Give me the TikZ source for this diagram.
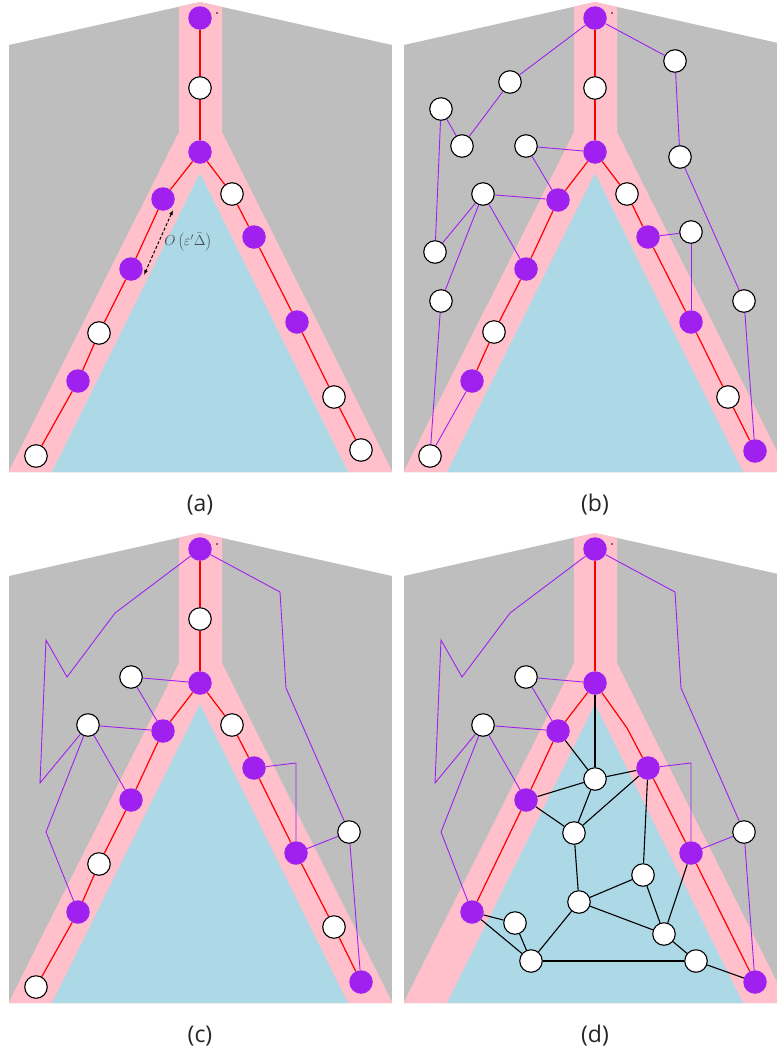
\documentclass[tikz,border=0pt]{standalone}
\usepackage{fontspec}
\newfontfamily\labfont{Open Sans}
\usetikzlibrary{arrows.meta}
\definecolor{bggrey}{RGB}{190,190,190}
\definecolor{bandpink}{RGB}{255,192,203}
\definecolor{triblue}{RGB}{173,216,230}
\definecolor{vpurple}{RGB}{160,32,240}
\definecolor{labgrey}{RGB}{70,78,86}
\tikzset{
  pn/.style={circle,fill=vpurple,minimum size=23.5pt,inner sep=0pt},
  wn/.style={circle,fill=white,draw=black,line width=1.1pt,minimum size=22.5pt,inner sep=0pt},
  redge/.style={draw=red,line width=1.2pt},
  pedge/.style={draw=vpurple,line width=0.9pt},
  bedge/.style={draw=black,line width=1.1pt},
  plabel/.style={font=\labfont\fontsize{23}{26}\selectfont,text=black!85},
}
\newcommand\panelbg{%
  \begin{scope}
    \clip (9,45) -- (200,2) -- (392,45) -- (392,472) -- (9,472) -- cycle;
    \fill[bggrey] (9,45) -- (200,2) -- (392,45) -- (392,472) -- (9,472) -- cycle;
    \fill[bandpink] (179,-5) -- (222,-5) -- (222,132) -- (393,473) -- (8,473) -- (179,132) -- cycle;
    \fill[triblue] (200,173) -- (52,472) -- (348,472) -- cycle;
  \end{scope}
  \fill[black] (217,13) circle (0.8);
}
\begin{document}
\begin{tikzpicture}[x=1pt,y=-1pt]
\clip (0,0) rectangle (777,1053);
\fill[white] (0,0) rectangle (777,1053);

% ---------------- panel (a)
\begin{scope}
\panelbg
\node[pn] (a0) at (200,18) {};
\node[wn] (a1) at (200,88) {};
\node[pn] (a2) at (200,152) {};
\node[pn] (a3) at (163,199) {};
\node[pn] (a4) at (131,269) {};
\node[wn] (a5) at (99,333) {};
\node[pn] (a6) at (78,381) {};
\node[wn] (a7) at (36,456) {};
\node[wn] (a8) at (232,194) {};
\node[pn] (a9) at (254,237) {};
\node[pn] (a10) at (297,322) {};
\node[wn] (a11) at (334,397) {};
\node[wn] (a12) at (361,450) {};
\draw[redge] (a0) -- (a1); \draw[redge] (a1) -- (a2);
\draw[redge] (a2) -- (a3); \draw[redge] (a3) -- (a4);
\draw[redge] (a4) -- (a5); \draw[redge] (a5) -- (a6);
\draw[redge] (a6) -- (a7);
\draw[redge] (a2) -- (a8); \draw[redge] (a8) -- (a9);
\draw[redge] (a9) -- (a10); \draw[redge] (a10) -- (a11);
\draw[redge] (a11) -- (a12);
\coordinate (arrA) at (173,210);
\coordinate (arrB) at (144,275);
\draw[densely dashed,line width=1pt,{Latex[length=5pt,width=4pt]}-{Latex[length=5pt,width=4pt]}] (arrA) -- (arrB);
\node[text=labgrey,font=\fontsize{14.5}{16}\selectfont] (lab) at (188,242) {$O\left(\varepsilon'\bar{\Delta}\right)$};
\node[plabel] (capa) at (200,505) {(a)};
\end{scope}

% ---------------- panel (b)
\begin{scope}[shift={(395,0)}]
\panelbg
\node[pn] (b0) at (200,18) {};
\node[wn] (b1) at (200,88) {};
\node[pn] (b2) at (200,152) {};
\node[pn] (b3) at (163,200) {};
\node[pn] (b4) at (131,269) {};
\node[wn] (b5) at (99,332) {};
\node[pn] (b6) at (77,381) {};
\node[wn] (b7) at (35,456) {};
\node[wn] (b8) at (232,194) {};
\node[pn] (b9) at (253,237) {};
\node[pn] (b10) at (296,322) {};
\node[wn] (b11) at (333,397) {};
\node[pn] (b12) at (360,451) {};
\node[wn] (bA) at (115,82) {};
\node[wn] (bB) at (46,109) {};
\node[wn] (bC) at (67,146) {};
\node[wn] (bD) at (131,146) {};
\node[wn] (bE) at (88,194) {};
\node[wn] (bF) at (40,252) {};
\node[wn] (bG) at (46,301) {};
\node[wn] (bH) at (280,61) {};
\node[wn] (bI) at (285,157) {};
\node[wn] (bJ) at (296,232) {};
\node[wn] (bK) at (349,301) {};
\draw[redge] (b0) -- (b1); \draw[redge] (b1) -- (b2);
\draw[redge] (b2) -- (b3); \draw[redge] (b3) -- (b4);
\draw[redge] (b4) -- (b5); \draw[redge] (b5) -- (b6);
\draw[pedge] (b6) -- (b7);
\draw[redge] (b2) -- (b8); \draw[redge] (b8) -- (b9);
\draw[redge] (b9) -- (b10); \draw[redge] (b10) -- (b11);
\draw[redge] (b11) -- (b12);
\draw[pedge] (b0) -- (bA); \draw[pedge] (bA) -- (bC);
\draw[pedge] (bC) -- (bB); \draw[pedge] (bB) -- (bF);
\draw[pedge] (bF) -- (bE); \draw[pedge] (bE) -- (bG);
\draw[pedge] (bG) -- (b7);
\draw[pedge] (bE) -- (b3); \draw[pedge] (bE) -- (b4);
\draw[pedge] (bD) -- (b2); \draw[pedge] (bD) -- (b3);
\draw[pedge] (b0) -- (bH); \draw[pedge] (bH) -- (bI);
\draw[pedge] (bI) -- (bK); \draw[pedge] (bK) -- (b12);
\draw[pedge] (bJ) -- (b9); \draw[pedge] (bJ) -- (b10);
\node[plabel] (capb) at (200,505) {(b)};
\end{scope}

% ---------------- panel (c)
\begin{scope}[shift={(0,531)}]
\panelbg
\node[pn] (c0) at (200,18) {};
\node[wn] (c1) at (200,88) {};
\node[pn] (c2) at (200,152) {};
\node[pn] (c3) at (163,200) {};
\node[pn] (c4) at (131,269) {};
\node[wn] (c5) at (99,333) {};
\node[pn] (c6) at (78,381) {};
\node[wn] (c7) at (36,456) {};
\node[wn] (c8) at (232,194) {};
\node[pn] (c9) at (254,237) {};
\node[pn] (c10) at (296,322) {};
\node[wn] (c11) at (334,396) {};
\node[pn] (c12) at (361,451) {};
\node[wn] (cD) at (131,146) {};
\node[wn] (cE) at (88,194) {};
\node[wn] (cK) at (349,301) {};
\coordinate (cA) at (115,82);
\coordinate (cB) at (46,109);
\coordinate (cC) at (67,146);
\coordinate (cF) at (40,252);
\coordinate (cG) at (46,301);
\coordinate (cH) at (280,61);
\coordinate (cI) at (286,157);
\coordinate (cJ) at (296,232);
\draw[redge] (c0) -- (c1); \draw[redge] (c1) -- (c2);
\draw[redge] (c2) -- (c3); \draw[redge] (c3) -- (c4);
\draw[redge] (c4) -- (c5); \draw[redge] (c5) -- (c6);
\draw[redge] (c6) -- (c7);
\draw[redge] (c2) -- (c8); \draw[redge] (c8) -- (c9);
\draw[redge] (c9) -- (c10); \draw[redge] (c10) -- (c11);
\draw[redge] (c11) -- (c12);
\draw[pedge] (c0) -- (cA) -- (cC) -- (cB) -- (cF) -- (cE);
\draw[pedge] (cE) -- (cG) -- (c6);
\draw[pedge] (cE) -- (c3); \draw[pedge] (cE) -- (c4);
\draw[pedge] (cD) -- (c2); \draw[pedge] (cD) -- (c3);
\draw[pedge] (c0) -- (cH) -- (cI) -- (cK);
\draw[pedge] (cK) -- (c10); \draw[pedge] (cK) -- (c12);
\draw[pedge] (c9) -- (cJ) -- (c10);
\node[plabel] (capc) at (200,505) {(c)};
\end{scope}

% ---------------- panel (d)
\begin{scope}[shift={(395,531)}]
\panelbg
\node[pn] (d0) at (200,18) {};
\node[pn] (d2) at (200,152) {};
\node[pn] (d3) at (163,200) {};
\node[pn] (d4) at (131,269) {};
\node[pn] (d6) at (77,381) {};
\coordinate (d8) at (232,197);
\node[pn] (d9) at (253,237) {};
\node[pn] (d10) at (296,322) {};
\node[pn] (d12) at (360,451) {};
\node[wn] (dD) at (131,146) {};
\node[wn] (dE) at (88,194) {};
\node[wn] (dK) at (349,301) {};
\coordinate (dA) at (115,82);
\coordinate (dB) at (46,109);
\coordinate (dC) at (67,146);
\coordinate (dF) at (40,252);
\coordinate (dG) at (46,301);
\coordinate (dH) at (280,61);
\coordinate (dI) at (286,157);
\coordinate (dJ) at (296,232);
\node[wn] (n1) at (200,248) {};
\node[wn] (n2) at (179,302) {};
\node[wn] (n3) at (248,344) {};
\node[wn] (n4) at (184,371) {};
\node[wn] (n5) at (120,392) {};
\node[wn] (n6) at (136,430) {};
\node[wn] (n7) at (269,403) {};
\node[wn] (n8) at (301,430) {};
\draw[redge] (d0) -- (d2);
\draw[redge] (d2) -- (d3); \draw[redge] (d3) -- (d4);
\draw[redge] (d4) -- (d6);
\draw[redge] (d2) -- (d8) -- (d9);
\draw[redge] (d9) -- (d10); \draw[redge] (d10) -- (d12);
\draw[pedge] (d0) -- (dA) -- (dC) -- (dB) -- (dF) -- (dE);
\draw[pedge] (dE) -- (dG) -- (d6);
\draw[pedge] (dE) -- (d3); \draw[pedge] (dE) -- (d4);
\draw[pedge] (dD) -- (d2); \draw[pedge] (dD) -- (d3);
\draw[pedge] (d0) -- (dH) -- (dI) -- (dK);
\draw[pedge] (dK) -- (d10); \draw[pedge] (dK) -- (d12);
\draw[pedge] (d9) -- (dJ) -- (d10);
\draw[bedge] (d2) -- (n1);
\draw[bedge] (d3) -- (n1);
\draw[bedge] (d4) -- (n1);
\draw[bedge] (d4) -- (n2);
\draw[bedge] (n1) -- (n2);
\draw[bedge] (n1) -- (d9);
\draw[bedge] (n2) -- (d9);
\draw[bedge] (n2) -- (n4);
\draw[bedge] (d9) -- (n3);
\draw[bedge] (n3) -- (n4);
\draw[bedge] (n3) -- (n7);
\draw[bedge] (n4) -- (n7);
\draw[bedge] (n4) -- (n6);
\draw[bedge] (d10) -- (n7);
\draw[bedge] (n7) -- (n8);
\draw[bedge] (n8) -- (d12);
\draw[bedge] (n6) -- (n8);
\draw[bedge] (d6) -- (n5);
\draw[bedge] (d6) -- (n6);
\draw[bedge] (n5) -- (n6);
\node[plabel] (capd) at (200,505) {(d)};
\end{scope}
\end{tikzpicture}
\end{document}
